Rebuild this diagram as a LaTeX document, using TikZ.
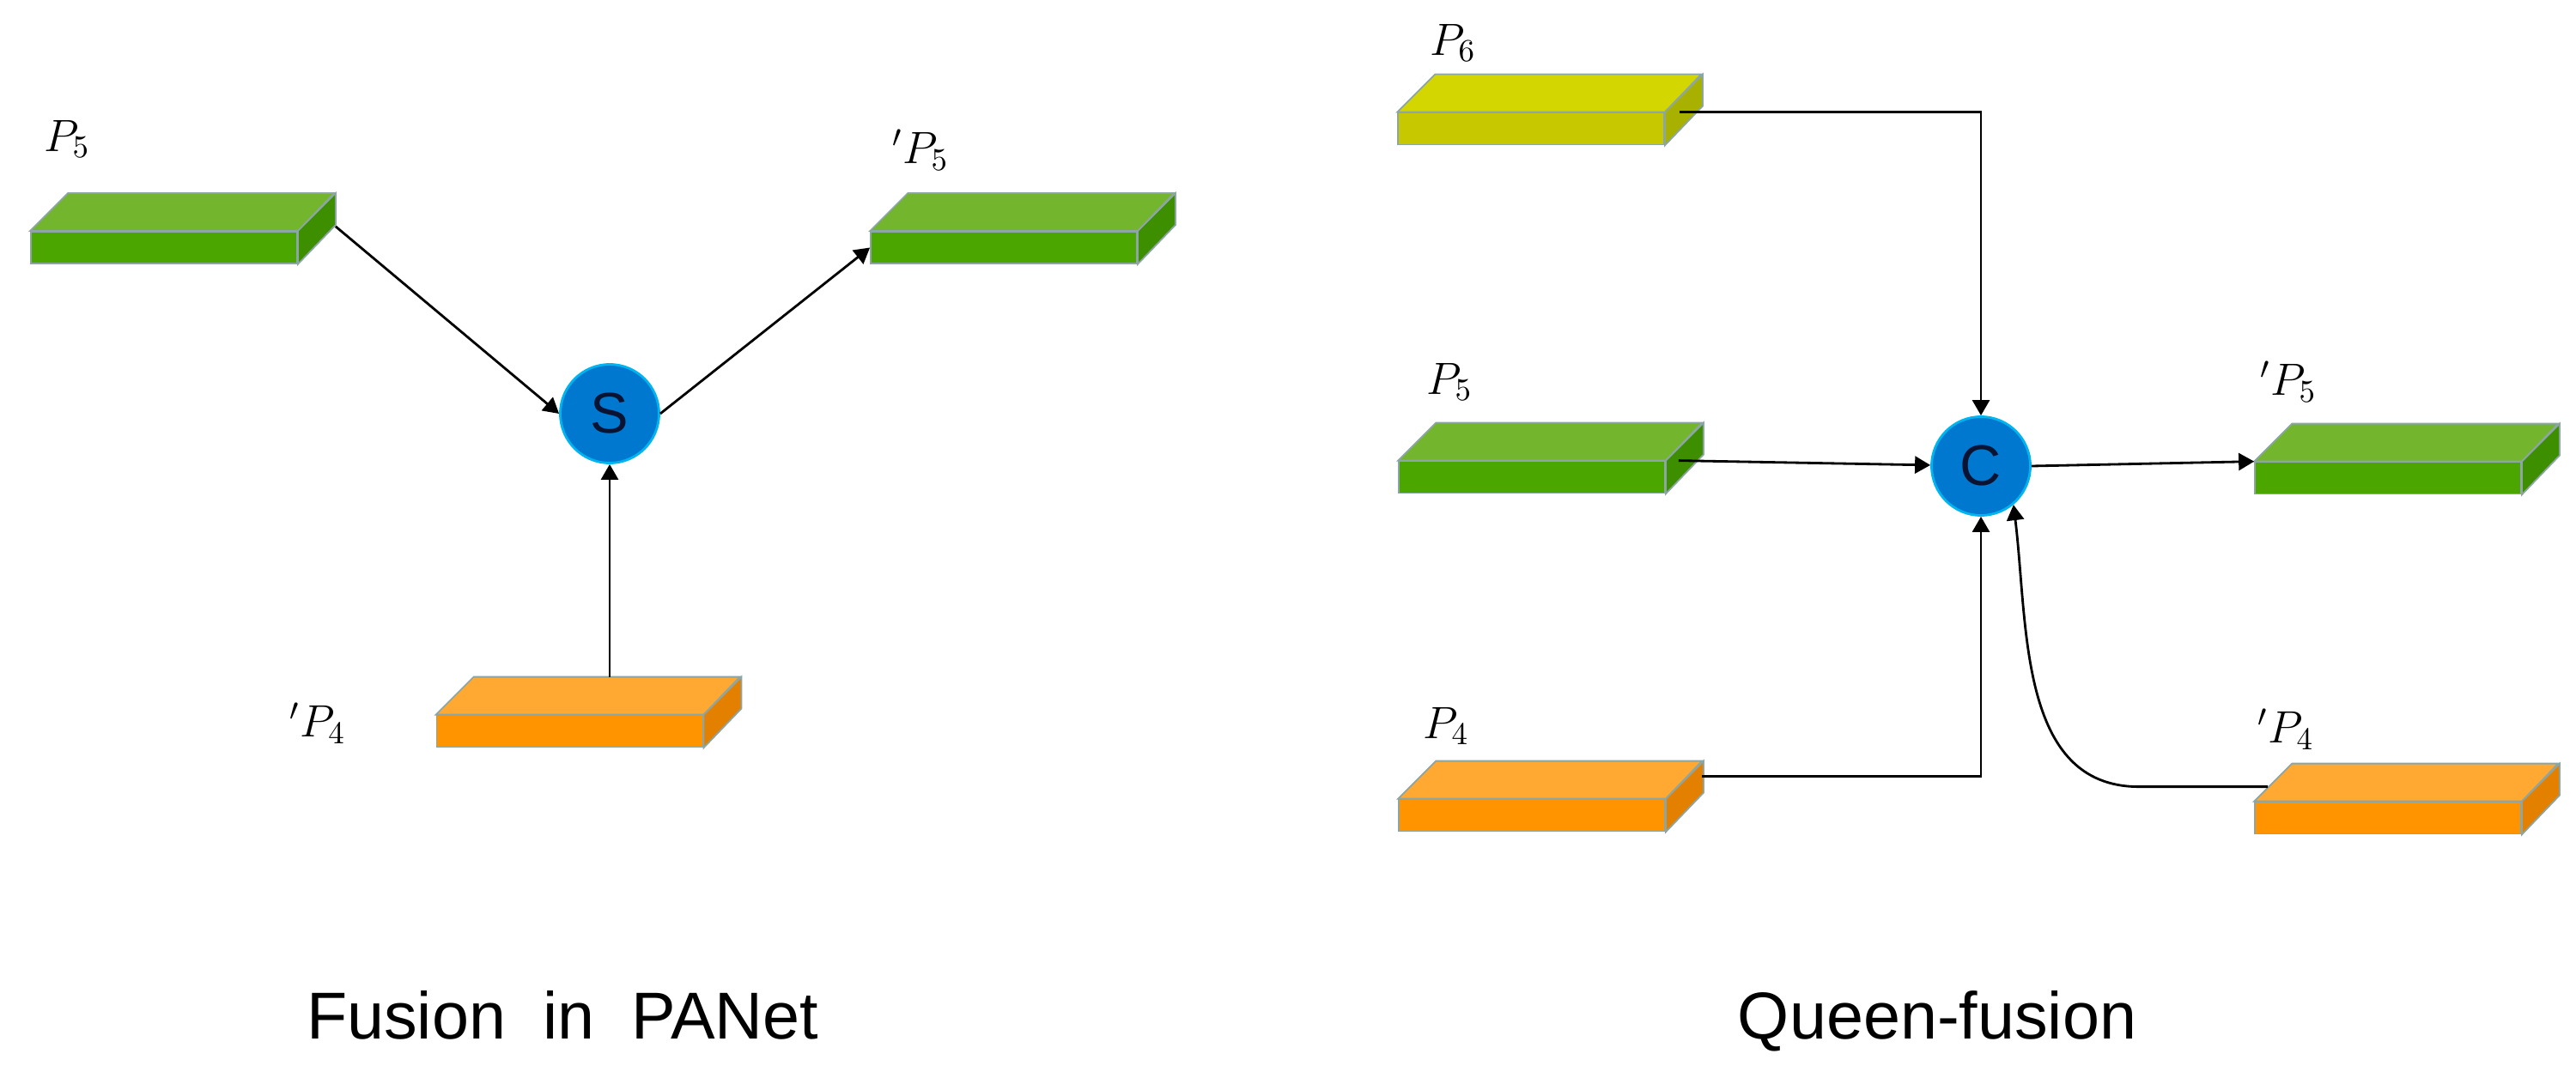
\RequirePackage{fix-cm}
\documentclass[tikz,border=0pt]{standalone}
\usepackage{fontspec}
\setsansfont{Liberation Sans}
\usetikzlibrary{arrows.meta,calc}

\definecolor{greentop}{RGB}{116,181,46}
\definecolor{greenfront}{RGB}{76,166,0}
\definecolor{greenside}{RGB}{62,143,0}
\definecolor{yellowtop}{RGB}{212,214,0}
\definecolor{yellowfront}{RGB}{200,200,0}
\definecolor{yellowside}{RGB}{168,176,0}
\definecolor{orangetop}{RGB}{255,168,50}
\definecolor{orangefront}{RGB}{255,148,0}
\definecolor{orangeside}{RGB}{228,128,0}
\definecolor{edgegray}{RGB}{140,165,165}
\definecolor{opblue}{RGB}{0,120,208}
\definecolor{opedge}{RGB}{0,180,240}
\definecolor{optext}{RGB}{10,20,50}

\tikzset{
  front/.style={rectangle, minimum width=3.1cm, minimum height=0.37cm, inner sep=0pt,
    draw=edgegray, line width=0.5pt},
  face/.style={draw=edgegray, line width=0.5pt},
  op/.style={circle, minimum size=1.15cm, inner sep=0pt, fill=opblue, draw=opedge,
    line width=0.8pt, text=optext, font=\sffamily\fontsize{19}{22}\selectfont},
  lbl/.style={font=\fontsize{15}{18}\selectfont},
  title/.style={anchor=base, font=\sffamily\fontsize{22}{26}\selectfont},
  conn/.style={line width=0.8pt, -{Triangle[length=1.8mm,width=2mm]}},
}

%% feature map: name, position, colour
\newcommand{\featmap}[3]{%
  \node[front, fill=#3front] (#1) at (#2) {};
  \filldraw[face, fill=#3top] (#1.north west) -- ++(0.44,0.44) -- ++(3.1,0) -- (#1.north east) -- cycle;
  \filldraw[face, fill=#3side] (#1.north east) -- ++(0.44,0.44) -- ++(0,-0.37) -- (#1.south east) -- cycle;
  \coordinate (#1-back) at ($(#1.north)+(0.44,0.44)$);
}

\begin{document}
\begin{tikzpicture}

\useasboundingbox (0,0) rectangle (30,12.55);

%% feature maps
\featmap{pa5}{1.91,9.665}{green}     %% P5
\featmap{pa5o}{11.69,9.665}{green}   %% 'P5
\featmap{pa4o}{6.635,4.03}{orange}   %% 'P4
\featmap{q6}{17.83,11.05}{yellow}    %% P6
\featmap{q5}{17.84,6.99}{green}      %% P5
\featmap{q4}{17.84,3.05}{orange}     %% P4
\featmap{q5o}{27.81,6.98}{green}     %% 'P5
\featmap{q4o}{27.81,3.02}{orange}    %% 'P4

%% operators
\node[op] (s) at (7.10,7.73) {S};
\node[op] (c) at (23.07,7.12) {C};

%% labels
\node[lbl] at (0.78,10.93) {$P_5$};
\node[lbl] at (10.72,10.80) {${}'P_5$};
\node[lbl] at (3.70,4.12) {${}'P_4$};
\node[lbl] at (16.92,12.05) {$P_6$};
\node[lbl] at (16.88,8.10) {$P_5$};
\node[lbl] at (26.65,8.10) {${}'P_5$};
\node[lbl] at (16.84,4.09) {$P_4$};
\node[lbl] at (26.62,4.05) {${}'P_4$};

\node[title] at (6.55,0.45) {Fusion\ \ in\ \ PANet};
\node[title] at (22.56,0.45) {Queen-fusion};

%%% connections
\draw[conn] ($(pa5.south east)+(0.44,0.44)$) -- (s.west);     %% P5 - S
\draw[conn] (s.east) -- (pa5o.west);                           %% S - 'P5
\draw[conn] (s |- pa4o-back) -- (s);                           %% 'P4 - S
\draw[conn] ($(q6.north east)+(0.17,0)$) -| (c);               %% P6 - C
\draw[conn] ($(q5.north east)+(0.15,0)$) -- (c);               %% P5 - C
\draw[conn] ($(q4.north east)+(0.42,0.26)$) -| (c);            %% P4 - C
\draw[conn] (c.east) -- (q5o.north west);                      %% C - 'P5
\draw[conn] ($(q4o.north west)+(0.16,0.17)$) -- ++(-1.5,0)
  to[out=180,in=-83] (c.-50);                                  %% 'P4 - C
\end{tikzpicture}
\end{document}
